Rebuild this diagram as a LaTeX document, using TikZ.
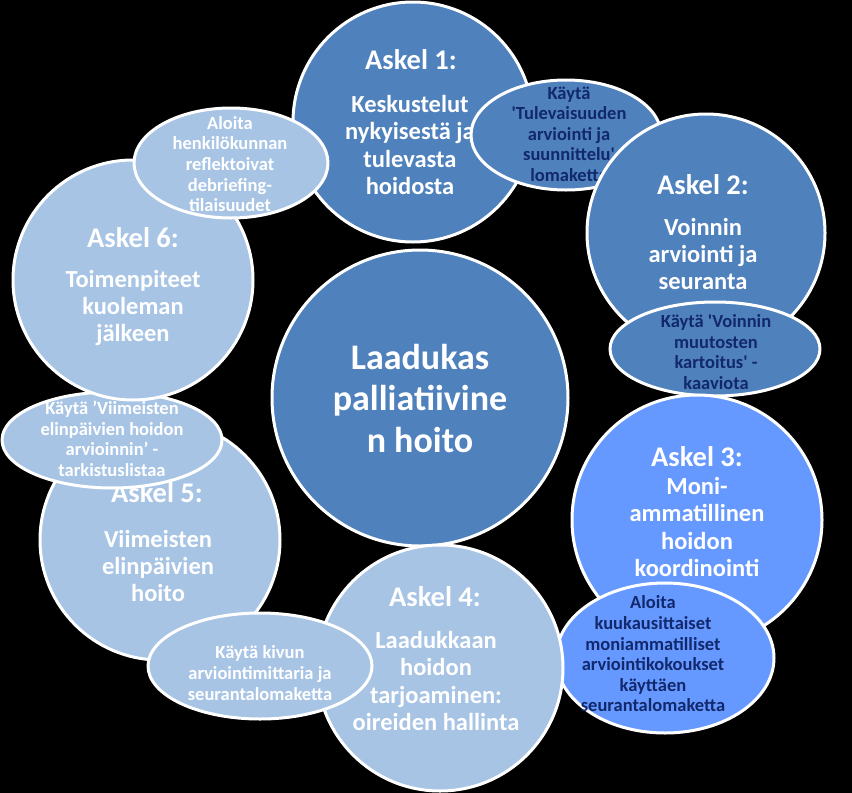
\documentclass[tikz,border=0pt]{standalone}
\usepackage{fontspec}
\setmainfont{Carlito}
\usetikzlibrary{shapes.geometric}
\definecolor{perus}{RGB}{79,129,189}
\definecolor{kirkas}{RGB}{102,153,255}
\definecolor{vaalea}{RGB}{167,196,229}
\definecolor{tumma}{RGB}{18,40,108}
\begin{document}
\begin{tikzpicture}[x=1pt,y=-1pt,line join=round,
	pallo/.style={circle,draw=white,line width=3pt,inner sep=0pt,minimum size=#1},
	soikio/.style 2 args={ellipse,draw=white,line width=3pt,inner sep=0pt,minimum width=#1,minimum height=#2},
	otsikko/.style={text=white,font=\fontsize{28.5}{30}\selectfont\bfseries},
	runko/.style={text=white,align=center,font=\fontsize{24.5}{27.3}\selectfont\bfseries},
	vinkki/.style={align=center,font=\fontsize{18.5}{20.6}\selectfont\bfseries}]
	\fill[black] (0,0) rectangle (852,793);
	% keskusta
	\node[pallo=296pt,fill=perus] (keski) at (420,398) {};
	\node[text=white,align=center,font=\fontsize{36}{41.5}\selectfont\bfseries] (keskit) at (420,398) {Laadukas\\palliatiivine\\n hoito};
	% askel 1
	\node[pallo=240pt,fill=perus] (askel1) at (413,122) {};
	\node[otsikko] (askel1o) at (411,60) {Askel 1:};
	\node[runko] (askel1t) at (410,145) {Keskustelut\\nykyisestä ja\\tulevasta\\hoidosta};
	\node[soikio={190pt}{110pt},fill=perus] (vinkki1) at (566,135) {};
	\node[vinkki,text=tumma] (vinkki1t) at (569,134) {Käytä\\\textquotesingle Tulevaisuuden\\arviointi ja\\suunnittelu\textquotesingle\\lomaketta};
	% askel 2
	\node[pallo=238pt,fill=perus] (askel2) at (706,233) {};
	\node[otsikko] (askel2o) at (703,185) {Askel 2:};
	\node[runko] (askel2t) at (703,254) {Voinnin\\arviointi ja\\seuranta};
	\node[soikio={210pt}{94pt},fill=perus] (vinkki2) at (715,349) {};
	\node[vinkki,text=tumma] (vinkki2t) at (716,352) {Käytä \textquotesingle Voinnin\\muutosten\\kartoitus\textquotesingle{} -\\kaaviota};
	% askel 3
	\node[pallo=250pt,fill=kirkas] (askel3) at (697,520) {};
	\node[otsikko] (askel3o) at (697,457) {Askel 3:};
	\node[runko] (askel3t) at (697,527) {Moni-\\ammatillinen\\hoidon\\koordinointi};
	\node[soikio={218pt}{150pt},fill=kirkas] (vinkki3) at (665,658) {};
	\node[vinkki,text=tumma] (vinkki3t) at (653,654) {Aloita\\kuukausittaiset\\moniammatilliset\\arviointikokoukset\\käyttäen\\seurantalomaketta};
	% askel 5
	\node[pallo=240pt,fill=vaalea] (askel5) at (160,540) {};
	\node[otsikko] (askel5o) at (157,493) {Askel 5:};
	\node[runko] (askel5t) at (158,566) {Viimeisten\\elinpäivien\\hoito};
	% askel 4
	\node[pallo=246pt,fill=vaalea] (askel4) at (440,668) {};
	\node[otsikko] (askel4o) at (435,597) {Askel 4:};
	\node[runko] (askel4t) at (436,681) {Laadukkaan\\hoidon\\tarjoaminen:\\oireiden hallinta};
	\node[soikio={224pt}{106pt},fill=vaalea] (vinkki4) at (260,666) {};
	\node[vinkki,text=white] (vinkki4t) at (260,673) {Käytä kivun\\arviointimittaria ja\\seurantalomaketta};
	\node[soikio={220pt}{96pt},fill=vaalea] (vinkki5) at (112,440) {};
	\node[vinkki,text=white] (vinkki5t) at (112,439) {Käytä ’Viimeisten\\elinpäivien hoidon\\arvioinnin’ -\\tarkistuslistaa};
	% askel 6
	\node[pallo=240pt,fill=vaalea] (askel6) at (133,280) {};
	\node[otsikko] (askel6o) at (133,238) {Askel 6:};
	\node[runko] (askel6t) at (133,308) {Toimenpiteet\\kuoleman\\jälkeen};
	\node[soikio={194pt}{110pt},fill=vaalea] (vinkki6) at (231,163) {};
	\node[vinkki,text=white] (vinkki6t) at (230,164) {Aloita\\henkilökunnan\\reflektoivat\\debriefing-\\tilaisuudet};
\end{tikzpicture}
\end{document}
